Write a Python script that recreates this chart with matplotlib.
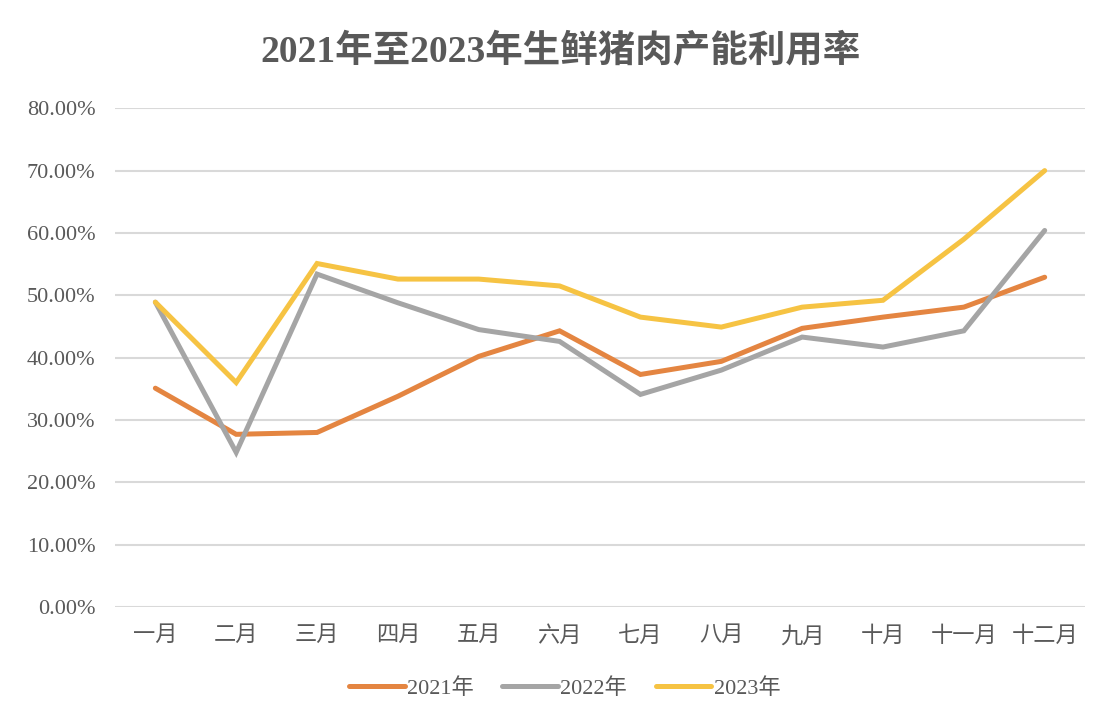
import numpy as np
import matplotlib.pyplot as plt
from matplotlib.ticker import FuncFormatter

months = ['一月', '二月', '三月', '四月', '五月', '六月',
          '七月', '八月', '九月', '十月', '十一月', '十二月']
rate_2021 = [35.1, 27.7, 28.0, 33.8, 40.2, 44.3, 37.3, 39.4, 44.7, 46.5, 48.1, 52.9]
rate_2022 = [48.9, 24.8, 53.4, 48.8, 44.5, 42.6, 34.1, 38.0, 43.3, 41.7, 44.3, 60.4]
rate_2023 = [48.9, 36.0, 55.1, 52.6, 52.6, 51.5, 46.5, 44.9, 48.1, 49.2, 59.0, 70.0]
series_names = ['2021年', '2022年', '2023年']
colors = ['#E48541', '#A5A5A5', '#F6C343']

fonts = ['Liberation Serif', 'Noto Sans CJK SC', 'DejaVu Sans']
plt.rcParams['font.family'] = fonts

fig = plt.figure(figsize=(11.05, 7.17), dpi=100)
ax = fig.add_axes([0.104, 0.1534, 0.878, 0.6956])

x = np.arange(len(months))
for vals, name, c in zip([rate_2021, rate_2022, rate_2023], series_names, colors):
    ax.plot(x, vals, color=c, lw=3.6, label=name, solid_capstyle='round', solid_joinstyle='miter')

ax.set_xlim(-0.5, len(months) - 0.5)
ax.set_ylim(0, 80)
ax.set_yticks(np.arange(0, 81, 10))
ax.yaxis.set_major_formatter(FuncFormatter(lambda v, p: f'{v:.2f}%'))
ax.set_xticks(x)
ax.set_xticklabels(months)
ax.grid(axis='y', color='#D9D9D9', lw=1.5)
ax.set_axisbelow(True)
for s in ax.spines.values():
    s.set_visible(False)
ax.tick_params(axis='both', length=0, labelsize=16, colors='#595959')
ax.tick_params(axis='x', pad=14)
ax.tick_params(axis='y', pad=14)

fig.text(0.507, 0.928, '2021年至2023年生鲜猪肉产能利用率', ha='center', va='center',
         fontsize=27, fontweight='bold', color='#595959')

leg = fig.legend(loc='center', bbox_to_anchor=(0.511, 0.04), ncol=3, frameon=False,
                 fontsize=16, handlelength=2.5, handletextpad=0.1, columnspacing=1.3)
for t in leg.get_texts():
    t.set_color('#595959')

fig.savefig('out.png', dpi=100)
